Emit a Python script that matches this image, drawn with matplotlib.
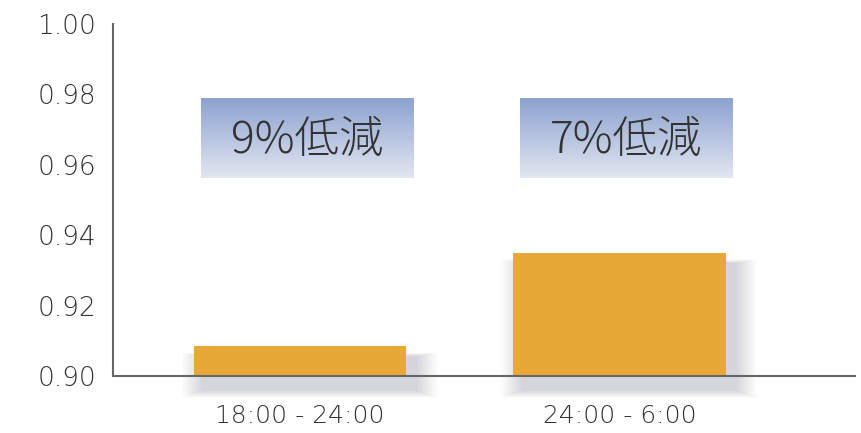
import numpy as np
import matplotlib
matplotlib.use("Agg")
import matplotlib.pyplot as plt
from matplotlib.patches import Rectangle

categories = ["18:00 - 24:00", "24:00 - 6:00"]
values = [0.9085, 0.935]
notes = ["9%低減", "7%低減"]
y_ticks = [0.90, 0.92, 0.94, 0.96, 0.98, 1.00]

BAR_COLOR = "#e8a838"
TEXT_COLOR = "#333333"
AXIS_COLOR = "#666666"

fig = plt.figure(figsize=(8.61, 4.33), dpi=100)
ax = fig.add_axes([0.1312, 0.1316, 0.9930 - 0.1312, 0.9446 - 0.1316])

x = np.arange(len(categories))
width = 0.664
ymin = 0.90

# soft shadow behind the bars, offset right/down
for xi, v in zip(x, values):
    for k in range(14, 0, -1):
        grow = k * 0.012
        ax.add_patch(Rectangle(
            (xi - width / 2 + 0.03 - grow * 0.4, ymin - 0.004 - grow * 0.013),
            width + grow * 0.8, v - ymin + 0.001 + grow * 0.02,
            facecolor="#1a2a40", edgecolor="none", alpha=0.012,
            clip_on=False, zorder=1))

ax.bar(x, [v - ymin for v in values], width=width, bottom=ymin,
       color=BAR_COLOR, zorder=3)

# gradient label boxes
grad = np.linspace(0, 1, 100).reshape(-1, 1)
top = np.array([0x8c, 0xa2, 0xcf]) / 255
bot = np.array([0xe2, 0xe6, 0xf1]) / 255
img = top + (bot - top) * grad[..., None]
img = img.reshape(100, 1, 3)
for xi, note in zip(x, notes):
    x0 = xi - width / 2 + 0.022
    x1 = x0 + width
    ax.imshow(img, extent=(x0, x1, 0.9562, 0.9787), aspect="auto",
              origin="upper", zorder=2, interpolation="bilinear")
    ax.text((x0 + x1) / 2, 0.9670, note, ha="center", va="center",
            fontsize=32, color=TEXT_COLOR, weight="light",
            family=["Noto Sans CJK JP", "DejaVu Sans"], zorder=4)

ax.set_xlim(-0.585, 1.737)
ax.set_ylim(0.90, 1.00)
ax.set_yticks(y_ticks)
ax.set_yticklabels([f"{t:.2f}" for t in y_ticks])
ax.set_xticks(x)
ax.set_xticklabels(categories)

for label in ax.get_yticklabels():
    label.set_family("DejaVu Sans")
    label.set_fontsize(19)
    label.set_weight("light")
    label.set_color("#333333")
for label in ax.get_xticklabels():
    label.set_family("DejaVu Sans")
    label.set_fontsize(18)
    label.set_weight("light")
    label.set_color("#333333")

ax.tick_params(axis="both", length=0)
ax.tick_params(axis="y", pad=12)
ax.tick_params(axis="x", pad=20)

for side in ["top", "right"]:
    ax.spines[side].set_visible(False)
for side in ["left", "bottom"]:
    ax.spines[side].set_color(AXIS_COLOR)
    ax.spines[side].set_linewidth(1.5)
    ax.spines[side].set_zorder(5)

fig.savefig("out.png", dpi=100)
